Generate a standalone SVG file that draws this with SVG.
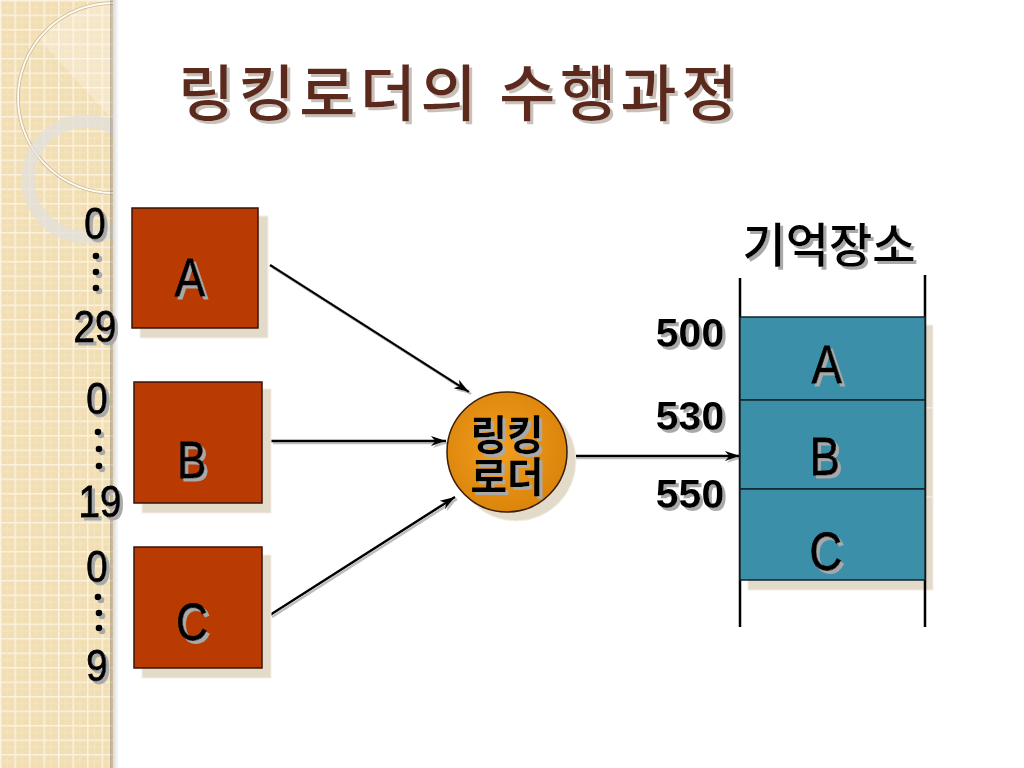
<svg xmlns="http://www.w3.org/2000/svg" width="1024" height="768" viewBox="0 0 1024 768">
<defs>
  <style>
    .lat { font-family: "Liberation Sans", Arial, sans-serif; fill: #000; stroke: #000; stroke-width: 0.9; }
    .num { font-family: "Liberation Sans", Arial, sans-serif; fill: #000; font-weight: bold; }
    .kr { font-family: "Noto Sans CJK KR", "Noto Sans", sans-serif; fill: #000; }
    .box { fill: #B93B02; stroke: #3A1408; stroke-width: 1.5; }
    .shd { fill: #E3DBCA; stroke: #F4EFE4; stroke-width: 1; }
    .mem { fill: #3B8FA9; stroke: #10262C; stroke-width: 1.5; }
    .conn { stroke: #000; stroke-width: 2.5; fill: none; marker-end: url(#arr); }
    .rail { stroke: #000; stroke-width: 2.5; }
    .dot { fill: #000; }
  </style>
  <pattern id="grid" width="14.5" height="14.5" patternUnits="userSpaceOnUse">
    <rect width="14.5" height="14.5" fill="#F1DEB3"/>
    <path d="M0 0.75 H14.5 M0.75 0 V14.5" stroke="#FBF3E2" stroke-width="1.5"/>
    <path d="M0 7.5 H14.5 M7.5 0 V14.5" stroke="#F6E6C6" stroke-width="0.8"/>
  </pattern>
  <linearGradient id="edge" x1="0" y1="0" x2="1" y2="0">
    <stop offset="0" stop-color="#000" stop-opacity="0.22"/>
    <stop offset="1" stop-color="#000" stop-opacity="0"/>
  </linearGradient>
  <radialGradient id="orb" cx="0.45" cy="0.45" r="0.6">
    <stop offset="0" stop-color="#F29E1E"/>
    <stop offset="1" stop-color="#D9830A"/>
  </radialGradient>
  <clipPath id="stripClip"><rect x="0" y="0" width="113" height="768"/></clipPath>
  <filter id="ts" x="-20%" y="-20%" width="150%" height="150%">
    <feOffset in="SourceAlpha" dx="3" dy="3" result="o"/>
    <feFlood flood-color="#A9A9A9"/>
    <feComposite in2="o" operator="in" result="s"/>
    <feMerge><feMergeNode in="s"/><feMergeNode in="SourceGraphic"/></feMerge>
  </filter>
  <filter id="tts" x="-5%" y="-20%" width="110%" height="150%">
    <feOffset in="SourceAlpha" dx="2.5" dy="2.5" result="o"/>
    <feFlood flood-color="#C9C1B9"/>
    <feComposite in2="o" operator="in" result="s"/>
    <feMerge><feMergeNode in="s"/><feMergeNode in="SourceGraphic"/></feMerge>
  </filter>
  <filter id="ls" x="-10%" y="-10%" width="120%" height="130%">
    <feOffset in="SourceAlpha" dx="2" dy="2" result="o"/>
    <feFlood flood-color="#BDBDBD"/>
    <feComposite in2="o" operator="in" result="s"/>
    <feMerge><feMergeNode in="s"/><feMergeNode in="SourceGraphic"/></feMerge>
  </filter>
  <marker id="arr" markerUnits="userSpaceOnUse" markerWidth="18" markerHeight="12" refX="15" refY="6" orient="auto">
    <path d="M0,1 L15,6 L0,11 L4,6 z" fill="#000"/>
  </marker>
</defs>

<rect width="1024" height="768" fill="#FFFFFF"/>

<!-- decorative left strip -->
<g id="strip">
  <rect x="0" y="0" width="113" height="768" fill="url(#grid)"/>
  <g clip-path="url(#stripClip)">
    <path d="M113 3 A95 95 0 0 0 40 40 L113 120 Z" fill="#FFFFFF" opacity="0.25"/>
    <circle cx="113" cy="98" r="95" fill="none" stroke="#CDBB98" stroke-width="3.5"/>
    <circle cx="113" cy="98" r="95" fill="none" stroke="#FFFDF6" stroke-width="1.8"/>
    <circle cx="86" cy="179" r="58" fill="none" stroke="#E2E0DC" stroke-width="13" opacity="0.75"/>
  </g>
  <rect x="110" y="0" width="9" height="768" fill="url(#edge)"/>
</g>

<!-- title -->
<text id="title" x="178" y="116" font-family="'Noto Sans CJK KR', sans-serif" font-size="61" font-weight="500" letter-spacing="4.5" fill="#5B2B1E" filter="url(#tts)">링킹로더의 수행과정</text>

<!-- address ranges at left -->
<g id="range-a" filter="url(#ts)">
  <text class="lat" x="95" y="239" font-size="45" text-anchor="middle" transform="translate(95 0) scale(0.86 1) translate(-95 0)">0</text>
  <circle class="dot" cx="96" cy="256" r="3.3"/>
  <circle class="dot" cx="96" cy="272" r="3.3"/>
  <circle class="dot" cx="96" cy="288" r="3.3"/>
  <text class="lat" x="95" y="342" font-size="45" text-anchor="middle" transform="translate(95 0) scale(0.86 1) translate(-95 0)">29</text>
</g>
<g id="range-b" filter="url(#ts)">
  <text class="lat" x="97" y="414" font-size="45" text-anchor="middle" transform="translate(97 0) scale(0.86 1) translate(-97 0)">0</text>
  <circle class="dot" cx="98" cy="432" r="3.3"/>
  <circle class="dot" cx="99" cy="449" r="3.3"/>
  <circle class="dot" cx="99" cy="466" r="3.3"/>
  <text class="lat" x="100" y="517" font-size="45" text-anchor="middle" transform="translate(100 0) scale(0.86 1) translate(-100 0)">19</text>
</g>
<g id="range-c" filter="url(#ts)">
  <text class="lat" x="97" y="582" font-size="45" text-anchor="middle" transform="translate(97 0) scale(0.86 1) translate(-97 0)">0</text>
  <circle class="dot" cx="98" cy="597" r="3.3"/>
  <circle class="dot" cx="99" cy="613" r="3.3"/>
  <circle class="dot" cx="99" cy="628" r="3.3"/>
  <text class="lat" x="97" y="681" font-size="45" text-anchor="middle" transform="translate(97 0) scale(0.86 1) translate(-97 0)">9</text>
</g>

<!-- connectors -->
<g id="connectors" filter="url(#ls)">
  <line class="conn" x1="270" y1="265" x2="469" y2="392"/>
  <line class="conn" x1="271" y1="441" x2="446" y2="441"/>
  <line class="conn" x1="270" y1="615" x2="455" y2="497"/>
  <line class="conn" x1="567" y1="456" x2="740" y2="456"/>
</g>

<!-- module boxes -->
<g id="node-a">
  <rect class="shd" x="140" y="216" width="128" height="122"/>
  <rect class="box" x="132" y="208" width="126" height="120"/>
  <text class="lat" x="190" y="296" font-size="53" text-anchor="middle" filter="url(#ts)" transform="translate(190 0) scale(0.86 1) translate(-190 0)">A</text>
</g>
<g id="node-b">
  <rect class="shd" x="142" y="389" width="129" height="124"/>
  <rect class="box" x="134" y="382" width="128" height="121"/>
  <text class="lat" x="192" y="478" font-size="51" text-anchor="middle" filter="url(#ts)" transform="translate(192 0) scale(0.86 1) translate(-192 0)">B</text>
</g>
<g id="node-c">
  <rect class="shd" x="142" y="555" width="129" height="123"/>
  <rect class="box" x="134" y="547" width="128" height="121"/>
  <text class="lat" x="192" y="640" font-size="51" text-anchor="middle" filter="url(#ts)" transform="translate(192 0) scale(0.86 1) translate(-192 0)">C</text>
</g>

<!-- linking loader -->
<g id="linker">
  <circle cx="516" cy="461" r="60" fill="#E3DBCA" stroke="#F4EFE4" stroke-width="1"/>
  <circle cx="507" cy="452" r="60" fill="url(#orb)" stroke="#3A1A08" stroke-width="1.5"/>
  <text class="kr" font-size="41" font-weight="bold" text-anchor="middle" filter="url(#ts)" transform="translate(507 0) scale(0.97 1) translate(-507 0)"><tspan x="507" y="450">링킹</tspan><tspan x="507" y="492">로더</tspan></text>
</g>

<!-- memory -->
<g id="memory">
  <text class="kr" x="829" y="262" font-size="47" font-weight="500" text-anchor="middle" filter="url(#ts)">기억장소</text>
  <rect class="shd" x="748" y="325" width="185" height="83"/>
  <rect class="shd" x="748" y="408" width="185" height="89"/>
  <rect class="shd" x="748" y="497" width="185" height="93"/>
  <line class="rail" x1="740" y1="278" x2="740" y2="627"/>
  <line class="rail" x1="925" y1="275" x2="925" y2="627"/>
</g>
<g id="mem-a">
  <rect class="mem" x="740" y="317" width="185" height="83"/>
  <text class="lat" x="827" y="383" font-size="54" text-anchor="middle" filter="url(#ts)" transform="translate(827 0) scale(0.84 1) translate(-827 0)">A</text>
</g>
<g id="mem-b">
  <rect class="mem" x="740" y="400" width="185" height="89"/>
  <text class="lat" x="825" y="475" font-size="54" text-anchor="middle" filter="url(#ts)" transform="translate(825 0) scale(0.84 1) translate(-825 0)">B</text>
</g>
<g id="mem-c">
  <rect class="mem" x="740" y="489" width="185" height="91"/>
  <text class="lat" x="826" y="570" font-size="54" text-anchor="middle" filter="url(#ts)" transform="translate(826 0) scale(0.84 1) translate(-826 0)">C</text>
</g>
<g id="addresses" filter="url(#ts)">
  <text class="num" x="690" y="347" font-size="41" text-anchor="middle">500</text>
  <text class="num" x="690" y="430" font-size="41" text-anchor="middle">530</text>
  <text class="num" x="690" y="508" font-size="41" text-anchor="middle">550</text>
</g>
</svg>
